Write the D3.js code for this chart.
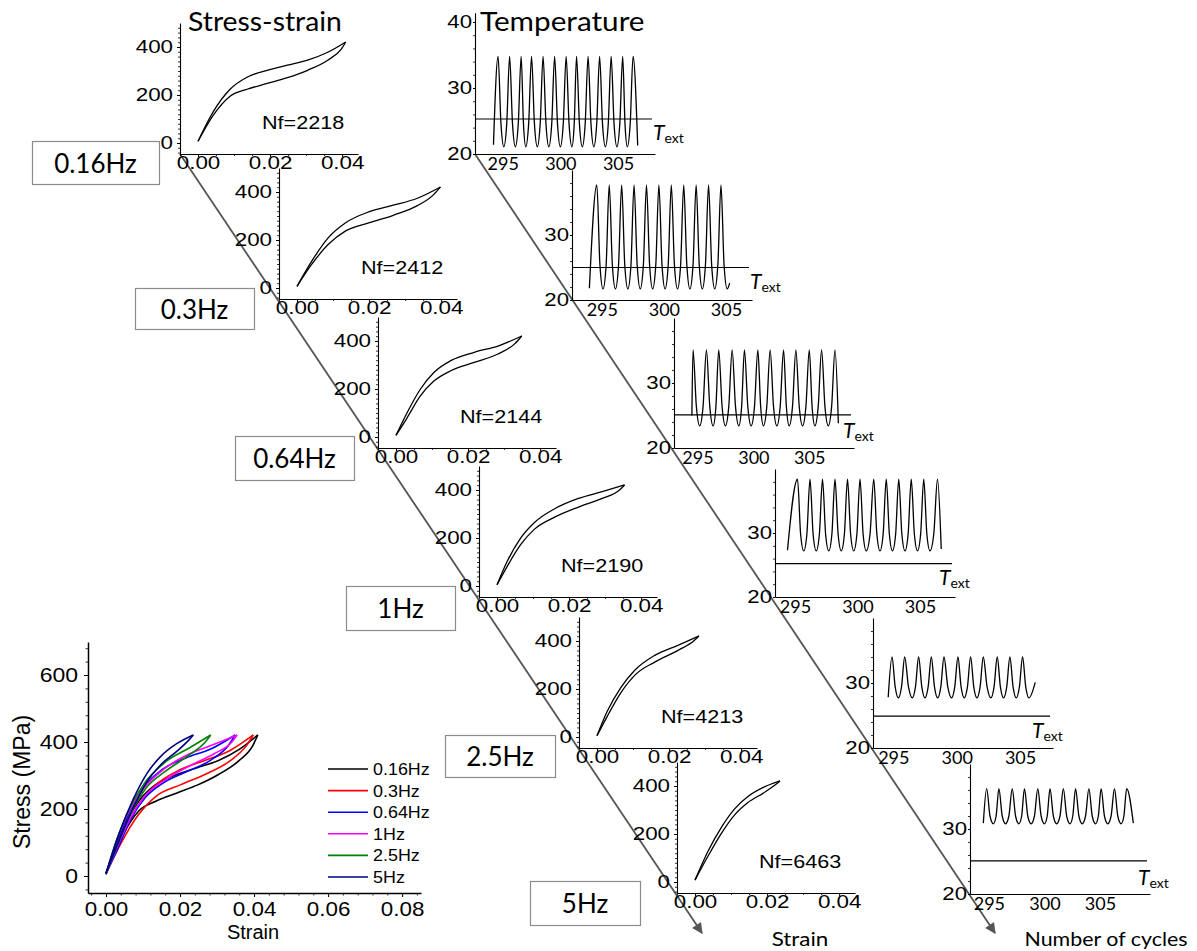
<!DOCTYPE html>
<html><head><meta charset="utf-8">
<script src="https://cdn.jsdelivr.net/npm/d3@7"></script>
<style>body{margin:0;background:#fff}svg{display:block}</style>
</head><body>
<svg id="chart" width="1197" height="951"></svg>
<script>
// ---------------- DATA ----------------
const frequencies = ["0.16Hz","0.3Hz","0.64Hz","1Hz","2.5Hz","5Hz"];
const seriesColors = ["#000000","#ff0000","#0000ff","#ff00ff","#008000","#000080"];
const cyclesToFailure = [2218, 2412, 2144, 2190, 4213, 6463];

// stress-strain hysteresis loops [strain, stress MPa]
const upper016 = [[0,7],[0.0042,130],[0.0089,224],[0.0136,274],[0.0192,303],[0.0248,324],[0.0304,345],[0.036,378],[0.041,421]];
const lower016 = [[0,7],[0.0042,115],[0.0089,195],[0.0136,224],[0.0192,248],[0.0248,272],[0.0304,303],[0.036,345],[0.0397,390],[0.041,421]];
const upper03  = [[0,7],[0.004,110],[0.0087,210],[0.0135,272],[0.0201,318],[0.0267,345],[0.0334,374],[0.0398,421]];
const lower03  = [[0,7],[0.004,97],[0.0087,182],[0.0135,238],[0.0201,272],[0.0267,303],[0.0334,343],[0.038,390],[0.0398,421]];
const upper064 = [[0,7],[0.003,99],[0.0067,198],[0.0105,269],[0.0152,318],[0.0217,353],[0.0283,379],[0.0349,421]];
const lower064 = [[0,7],[0.003,78],[0.0067,170],[0.0105,233],[0.0152,276],[0.0217,311],[0.0283,346],[0.033,389],[0.0349,421]];
const upper1   = [[0,5],[0.0028,102],[0.0066,201],[0.0104,265],[0.016,322],[0.0226,365],[0.0292,393],[0.0354,421]];
const lower1   = [[0,5],[0.0028,81],[0.0066,173],[0.0104,237],[0.016,287],[0.0226,329],[0.0292,365],[0.034,400],[0.0354,421]];
const upper25  = [[0,5],[0.0028,106],[0.0066,206],[0.0104,277],[0.016,340],[0.0226,383],[0.0283,421]];
const lower25  = [[0,5],[0.0028,85],[0.0066,184],[0.0108,262],[0.016,312],[0.0226,362],[0.0269,401],[0.0283,421]];
const upper5   = [[0,8],[0.0035,125],[0.0074,230],[0.011,305],[0.0146,355],[0.0191,395],[0.0236,421]];
const lower5   = [[0,8],[0.0035,105],[0.0074,205],[0.011,280],[0.0146,330],[0.0191,372],[0.0223,405],[0.0236,421]];
const upperBranches = [upper016, upper03, upper064, upper1, upper25, upper5];
const lowerBranches = [lower016, lower03, lower064, lower1, lower25, lower5];

// temperature oscillations (cycle number, °C)
const peaks016 = [294.6,295.6,296.6,297.5,298.5,299.5,300.5,301.4,302.4,303.4,304.4,305.4,306.3];
const troughs016 = [295.1,296.1,297.0,298.0,299.0,300.0,301.0,301.9,302.9,303.9,304.9,305.8];
const peaks03 = [294.6,295.6,296.6,297.6,298.6,299.6,300.6,301.6,302.6,303.6,304.6];
const troughs03 = [295.1,296.1,297.1,298.1,299.1,300.1,301.1,302.1,303.1,304.1,305.1];
const peaks064 = [294.6,295.8,296.9,298.1,299.2,300.4,301.5,302.7,303.8,305.0,306.1,307.3];
const troughs064 = [295.2,296.4,297.5,298.7,299.8,300.9,302.1,303.2,304.4,305.5,306.7];
const peaks1 = [295.2,296.2,297.2,298.2,299.2,300.2,301.3,302.3,303.3,304.3,305.3,306.4];
const troughs1 = [295.7,296.7,297.7,298.7,299.7,300.7,301.8,302.8,303.8,304.8,305.8];
const peaks25 = [294.9,295.9,297.0,298.0,299.0,300.1,301.1,302.1,303.2,304.2,305.2];
const troughs25 = [295.4,296.5,297.5,298.5,299.6,300.6,301.6,302.7,303.7,304.7,305.7];
const peaks5 = [294.8,295.9,297.1,298.2,299.4,300.5,301.7,302.8,304.0,305.1,306.3,307.4];
const troughs5 = [295.4,296.5,297.7,298.8,300.0,301.1,302.3,303.4,304.6,305.7,306.9];
const tempPeaks = [peaks016, peaks03, peaks064, peaks1, peaks25, peaks5];
const tempTroughs = [troughs016, troughs03, troughs064, troughs1, troughs25, troughs5];
const peakTemps = [34.8, 37.7, 35.1, 38.4, 34.0, 36.2];
const troughTemps = [21.1, 21.7, 23.4, 27.2, 27.7, 30.8];
// temperature read half-way (in time) between a trough and the next/previous peak
const flankTemps = [24.6, 25.4, 26.4, 29.8, 29.4, 32.0];
const firstPoints = [[294.2,21.4],[294.0,21.8],[294.5,25.0],[294.4,27.3],[294.6,27.8],[294.5,30.9]];
const lastPoints = [[306.7,21.3],[305.3,22.6],[307.6,23.8],[306.7,27.5],[306.2,30.1],[308.0,30.9]];
const externalTemps = [25.3, 25.0, 25.1, 25.2, 24.9, 25.1];
const cycleDomains = [[292.6,308.2],[292.6,307.1],[292.9,309.0],[293.4,307.8],[293.4,307.6],[293.3,309.5]];
const tempTopValues = [41.4, 40, 40, 40, 40, 40];
const tempTickValues = [[20,30,40],[20,30],[20,30],[20,30],[20,30],[20,30]];
const cycleTicks = [295, 300, 305];
const strainTicksSmall = [0, 0.02, 0.04];
const stressTicksSmall = [0, 200, 400];
const strainTicksBig = [0, 0.02, 0.04, 0.06, 0.08];
const stressTicksBig = [0, 200, 400, 600];

// ---------------- LAYOUT ----------------
const strainOrigins = [[180,154],[279,299],[378,448],[479,597],[579,748],[677,893]];
const tempOrigins = [[475,154],[572,300],[674,448],[775,597],[873,748],[970,894]];
const tempUnitPx = [6.6, 6.5, 6.5, 6.4, 6.5, 6.5];
const boxRects = [[32,141,127,43],[135,288,119,41],[235,436,119,44],[346,586,109,44],[445,735,110,42],[530,881,110,44]];
const textExtOffsets = [[178,-14],[178,-11],[169,-10],[164,-12],[159,-10],[168,-9]];

const ARIAL = "'Liberation Sans', Arial, sans-serif";
const CALIBRI = "Lato, 'Open Sans', sans-serif";

const svg = d3.select("#chart");
svg.append("rect").attr("width",1197).attr("height",951).attr("fill","#fff");

function fixAxisText(g, ff, fs, sx) {
  g.attr("font-family", null).attr("font-size", null).attr("color", "#000");
  g.selectAll(".tick text").each(function () {
    const t = d3.select(this);
    const x = +t.attr("x") || 0;
    t.attr("x", x / sx).attr("transform", `scale(${sx},1)`)
      .attr("font-family", ff).attr("font-size", fs).attr("fill", "#000");
  });
}
function minorAxis(parent, axisFn, scale, values, size) {
  const g = parent.append("g").call(axisFn(scale).tickValues(values).tickSize(size).tickFormat("").tickSizeOuter(0));
  g.select(".domain").remove();
  g.attr("color", "#000");
  g.selectAll("line").attr("stroke-width", 0.8);
  return g;
}
function addText(parent, x, y, str, ff, fs, sx, anchor) {
  return parent.append("text").attr("transform", `translate(${x},${y}) scale(${sx},1)`)
    .attr("font-family", ff).attr("font-size", fs).attr("text-anchor", anchor || "start")
    .attr("fill", "#000").text(str);
}

// ---------------- ARROWS ----------------
const defs = svg.append("defs");
defs.append("marker").attr("id", "ah").attr("viewBox", "0 0 10 10")
  .attr("refX", 9).attr("refY", 5).attr("markerWidth", 7.5).attr("markerHeight", 6)
  .attr("orient", "auto").append("path").attr("d", "M0,0L10,5L0,10z").attr("fill", "#555");
svg.append("line").attr("x1", 180).attr("y1", 154).attr("x2", 702).attr("y2", 933)
  .attr("stroke", "#555").attr("stroke-width", 1.8).attr("marker-end", "url(#ah)");
svg.append("line").attr("x1", 475).attr("y1", 154).attr("x2", 995).attr("y2", 933)
  .attr("stroke", "#555").attr("stroke-width", 1.8).attr("marker-end", "url(#ah)");

// ---------------- SMALL STRESS-STRAIN PANELS ----------------
frequencies.forEach((f, i) => {
  const [ox, oy] = strainOrigins[i];
  const g = svg.append("g").attr("transform", `translate(${ox},${oy})`);
  const x = d3.scaleLinear().domain([-0.005, 0.0444]).range([0, 178]);
  const y = d3.scaleLinear().domain([-45.8, 500]).range([0, -131]);
  const line = d3.line().x(d => x(d[0])).y(d => y(d[1])).curve(d3.curveMonotoneX);
  minorAxis(g, d3.axisBottom, x, d3.range(-0.005, 0.0441, 0.005).filter(v => Math.abs(Math.round(v / 0.02) * 0.02 - v) > 1e-6), 2);
  minorAxis(g, d3.axisLeft, y, d3.range(-40, 500, 20).filter(v => v % 200 !== 0), 2);
  const xa = g.append("g").call(d3.axisBottom(x).tickValues(strainTicksSmall).tickFormat(d3.format(".2f")).tickSize(3).tickPadding(0).tickSizeOuter(0));
  fixAxisText(xa, ARIAL, 17.5, 1.28);
  const ya = g.append("g").call(d3.axisLeft(y).tickValues(stressTicksSmall).tickSize(3).tickPadding(4).tickSizeOuter(0));
  fixAxisText(ya, ARIAL, 17.5, 1.28);
  g.selectAll(".domain").attr("stroke-width", 1.1);
  g.append("path").datum(upperBranches[i]).attr("d", line).attr("fill", "none").attr("stroke", "#000").attr("stroke-width", 1.3);
  g.append("path").datum(lowerBranches[i]).attr("d", line).attr("fill", "none").attr("stroke", "#000").attr("stroke-width", 1.3);
  addText(g, 82, -25, "Nf=" + cyclesToFailure[i], ARIAL, 18, 1.2);
});

// ---------------- TEMPERATURE PANELS ----------------
frequencies.forEach((f, i) => {
  const [ox, oy] = tempOrigins[i];
  const g = svg.append("g").attr("transform", `translate(${ox},${oy})`);
  const x = d3.scaleLinear().domain(cycleDomains[i]).range([0, 180]);
  const y = d3.scaleLinear().domain([20, tempTopValues[i]]).range([0, -(tempTopValues[i] - 20) * tempUnitPx[i]]);
  minorAxis(g, d3.axisLeft, y, d3.range(22, tempTopValues[i], 2).filter(v => v % 10 !== 0), 2);
  const xa = g.append("g").call(d3.axisBottom(x).tickValues(cycleTicks).tickSize(0).tickPadding(3).tickSizeOuter(0));
  fixAxisText(xa, CALIBRI, 18, 1);
  const ya = g.append("g").call(d3.axisLeft(y).tickValues(tempTickValues[i]).tickSize(2).tickPadding(1).tickSizeOuter(0));
  fixAxisText(ya, ARIAL, 18.5, 1.2);
  g.selectAll(".domain").attr("stroke-width", 1.1);
  g.append("line").attr("x1", 0).attr("x2", 177).attr("y1", y(externalTemps[i])).attr("y2", y(externalTemps[i]))
    .attr("stroke", "#000").attr("stroke-width", 1.2);
  // extrema sequence, with flank points read between each trough and its neighbouring peaks
  const ext = [firstPoints[i]]
    .concat(tempPeaks[i].map(c => [c, peakTemps[i], "p"]))
    .concat(tempTroughs[i].map(c => [c, troughTemps[i], "t"]))
    .concat([lastPoints[i]])
    .sort((a, b) => a[0] - b[0]);
  const pts = [];
  ext.forEach((p, k) => {
    if (k > 0 && (p[2] === "p" || ext[k - 1][2] === "p") && (p[2] === "t" || ext[k - 1][2] === "t")) {
      pts.push([(p[0] + ext[k - 1][0]) / 2, flankTemps[i]]);
    }
    pts.push(p);
  });
  const line = d3.line().x(d => x(d[0])).y(d => y(d[1])).curve(d3.curveMonotoneX);
  g.append("path").datum(pts).attr("d", line).attr("fill", "none").attr("stroke", "#000").attr("stroke-width", 1.3);
  const [tx, ty] = textExtOffsets[i];
  const t = g.append("text").attr("x", tx).attr("y", ty).attr("font-family", CALIBRI).attr("fill", "#000");
  t.append("tspan").attr("font-size", 21).attr("font-style", "italic").text("T");
  t.append("tspan").attr("font-size", 14).attr("dy", 3).text("ext");
});

// ---------------- FREQUENCY BOXES ----------------
frequencies.forEach((f, i) => {
  const [bx, by, bw, bh] = boxRects[i];
  svg.append("rect").attr("x", bx + 0.5).attr("y", by + 0.5).attr("width", bw).attr("height", bh)
    .attr("fill", "#fff").attr("stroke", "#8c8c8c").attr("stroke-width", 1.2);
  svg.append("text").attr("x", bx + bw / 2).attr("y", by + bh / 2 + 10).attr("text-anchor", "middle")
    .attr("font-family", CALIBRI).attr("font-size", 26).attr("fill", "#000").text(f);
});

// ---------------- TITLES ----------------
addText(svg, 188, 31, "Stress-strain", CALIBRI, 26, 1.09);
addText(svg, 480, 31, "Temperature", CALIBRI, 27, 1.1);
addText(svg, 800, 946, "Strain", CALIBRI, 20, 1.12, "middle");
addText(svg, 1106, 946, "Number of cycles", CALIBRI, 20, 1.07, "middle");

// ---------------- COMBINED CHART ----------------
const cg = svg.append("g");
const cx = d3.scaleLinear().domain([-0.00486, 0.0851]).range([88, 421]);
const cy = d3.scaleLinear().domain([-50.7, 698.5]).range([893, 642]);
const cxMinor = cg.append("g").attr("transform", "translate(0,893)");
minorAxis(cxMinor, d3.axisBottom, cx, d3.range(-0.004, 0.085, 0.004).filter(v => Math.abs(Math.round(v / 0.02) * 0.02 - v) > 1e-6), 2.5);
const cyMinor = cg.append("g").attr("transform", "translate(88,0)");
minorAxis(cyMinor, d3.axisLeft, cy, d3.range(-40, 699, 40).filter(v => v % 200 !== 0), 2.5);
const cxa = cg.append("g").attr("transform", "translate(0,893)")
  .call(d3.axisBottom(cx).tickValues(strainTicksBig).tickFormat(d3.format(".2f")).tickSize(4).tickPadding(5).tickSizeOuter(0));
fixAxisText(cxa, ARIAL, 20, 1.12);
const cya = cg.append("g").attr("transform", "translate(88,0)")
  .call(d3.axisLeft(cy).tickValues(stressTicksBig).tickSize(4).tickPadding(6).tickSizeOuter(0));
fixAxisText(cya, ARIAL, 20, 1.15);
cg.selectAll(".domain").attr("stroke-width", 1.5);
const cline = d3.line().x(d => cx(d[0])).y(d => cy(d[1])).curve(d3.curveMonotoneX);
frequencies.forEach((f, i) => {
  [upperBranches[i], lowerBranches[i]].forEach(b => {
    cg.append("path").datum(b).attr("d", cline).attr("fill", "none")
      .attr("stroke", seriesColors[i]).attr("stroke-width", 1.6);
  });
});
svg.append("text").attr("transform", "translate(30,782) rotate(-90)").attr("text-anchor", "middle")
  .attr("font-family", ARIAL).attr("font-size", 23).attr("fill", "#000").text("Stress (MPa)");
svg.append("text").attr("x", 253).attr("y", 939).attr("text-anchor", "middle")
  .attr("font-family", ARIAL).attr("font-size", 20).attr("fill", "#000").text("Strain");
// legend
frequencies.forEach((f, i) => {
  const ly = 769 + i * 21.6;
  svg.append("line").attr("x1", 328).attr("x2", 368).attr("y1", ly).attr("y2", ly)
    .attr("stroke", seriesColors[i]).attr("stroke-width", 1.6);
  addText(svg, 373, ly + 6, f, ARIAL, 16, 1.12);
});
</script>
</body></html>
